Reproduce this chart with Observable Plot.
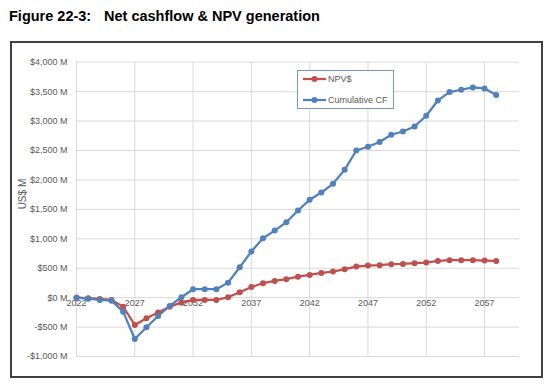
<!DOCTYPE html>
<html><head><meta charset="utf-8">
<script src="https://cdn.jsdelivr.net/npm/d3@7"></script>
<script src="https://cdn.jsdelivr.net/npm/@observablehq/plot@0.6"></script>
<style>
body{margin:0;background:#fff;}
#wrap{position:relative;width:550px;height:387px;overflow:hidden;font-family:"Liberation Sans",Arial,sans-serif;background:#fff;}
#title{position:absolute;left:9px;top:8.7px;font-size:14.5px;line-height:14.5px;font-weight:bold;color:#000;white-space:nowrap;}
#chart{position:absolute;left:0;top:0;}
#frame{position:absolute;left:10px;top:41px;width:533px;height:337px;box-sizing:border-box;border:2px solid #404040;pointer-events:none;}
#legend{position:absolute;left:297px;top:70px;width:97px;height:39px;box-sizing:border-box;border:1px solid #6f97cc;background:#fff;}
.lrow{position:absolute;left:0;height:12px;width:100%;}
.lrow svg{position:absolute;left:5px;top:0;}
.lrow span{position:absolute;left:30px;top:0;font-size:9px;line-height:12px;color:#595959;white-space:nowrap;}
</style></head><body>
<div id="wrap">
  <div id="chart"></div>
  <div id="title"><span>Figure 22-3:</span><span style="position:absolute;left:95px">Net cashflow &amp; NPV generation</span></div>
  <div id="legend"></div>
  <div id="frame"></div>
</div>
<script>
const years = d3.range(2022, 2059);
const seriesNames = ["NPV$", "Cumulative CF"];
const seriesColors = ["#C0504D", "#4F81BD"];
const npv = [0, -10, -22, -40, -153, -464, -350, -252, -153, -85, -39, -39, -39, 7, 92, 182, 245, 284, 313, 357, 386, 420, 442, 483, 527, 544, 551, 568, 573, 585, 595, 624, 636, 636, 636, 629, 624];
const cumCF = [0, -17, -39, -51, -238, -702, -503, -311, -141, 7, 143, 143, 143, 255, 517, 782, 1010, 1139, 1282, 1480, 1662, 1786, 1934, 2172, 2500, 2563, 2643, 2767, 2823, 2908, 3090, 3350, 3493, 3532, 3571, 3554, 3442];
const yTicks = [-1000, -500, 0, 500, 1000, 1500, 2000, 2500, 3000, 3500, 4000];
const xTicks = [2022, 2027, 2032, 2037, 2042, 2047, 2052, 2057];
const yTitle = "US$ M";

const data = [];
years.forEach((yr, i) => {
  data.push({year: yr, value: npv[i], series: seriesNames[0]});
});
years.forEach((yr, i) => {
  data.push({year: yr, value: cumCF[i], series: seriesNames[1]});
});

const fmt = d => (d < 0 ? "-" : "") + "$" + d3.format(",")(Math.abs(d)) + " M";

const chart = Plot.plot({
  width: 550,
  height: 387,
  marginLeft: 76,
  marginRight: 31,
  marginTop: 61.7,
  marginBottom: 31,
  style: {fontFamily: "'Liberation Sans', Arial, sans-serif", fontSize: "9px", color: "#595959", background: "transparent", overflow: "visible"},
  x: {domain: [2022, 2060], axis: null},
  y: {domain: [-1000, 4000], axis: null},
  color: {domain: seriesNames, range: seriesColors},
  marks: [
    Plot.ruleY(yTicks, {stroke: "#d9d9d9", strokeWidth: 1}),
    Plot.ruleX(xTicks, {stroke: "#d9d9d9", strokeWidth: 1}),
    Plot.axisY(yTicks, {tickSize: 0, tickPadding: 9, tickFormat: fmt, fill: "#595959", fontSize: 9, label: null}),
    Plot.text(xTicks, {x: d => d, y: 0, text: d => String(d), dy: 5, fill: "#595959", fontSize: 9}),
    Plot.text([yTitle], {frameAnchor: "left", text: d => d, rotate: -90, dx: -54, fill: "#595959", fontSize: 10}),
    Plot.line(data, {x: "year", y: "value", stroke: "series", strokeWidth: 2.25, z: "series"}),
    Plot.dot(data, {x: "year", y: "value", fill: "series", r: 3, stroke: "none"})
  ]
});
document.getElementById("chart").appendChild(chart);

const legend = document.getElementById("legend");
seriesNames.forEach((name, i) => {
  const row = document.createElement("div");
  row.className = "lrow";
  row.style.top = (i === 0 ? 2 : 23) + "px";
  row.innerHTML = `<svg width="24" height="12"><line x1="0" x2="23" y1="6" y2="6" stroke="${seriesColors[i]}" stroke-width="2.25"/><circle cx="11.5" cy="6" r="3" fill="${seriesColors[i]}"/></svg><span>${name}</span>`;
  legend.appendChild(row);
});
</script>
</body></html>
